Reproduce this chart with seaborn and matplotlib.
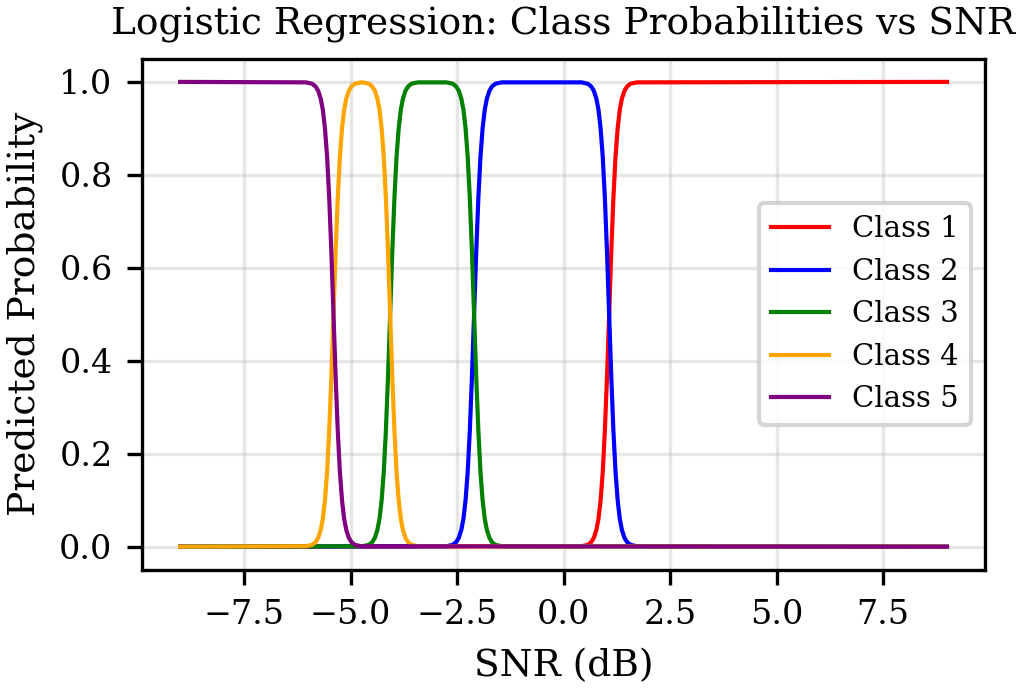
import matplotlib
matplotlib.use('Agg')
import matplotlib.pyplot as plt
import numpy as np
import pandas as pd
import seaborn as sns

# Probability curves (SNR in dB -> predicted probability)
class1_x = [-9.0,
            0.42, 0.57, 0.65, 0.71, 0.77, 0.82, 0.87, 0.92, 0.97, 1.02, 1.07,
            1.12, 1.17, 1.22, 1.27, 1.32, 1.37, 1.43, 1.49, 1.57, 1.72,
            9.0]
class1_y = [0.0,
            0.001, 0.004, 0.010, 0.019, 0.036, 0.060, 0.100, 0.161, 0.250, 0.366, 0.500,
            0.634, 0.750, 0.839, 0.900, 0.940, 0.964, 0.981, 0.990, 0.996, 0.999,
            1.0]

class2_x = [-9.0,
            -2.75, -2.60, -2.52, -2.46, -2.40, -2.35, -2.30, -2.25, -2.20, -2.15, -2.10,
            -2.05, -2.00, -1.95, -1.90, -1.85, -1.80, -1.74, -1.68, -1.60, -1.45,
            0.42, 0.57, 0.65, 0.71, 0.77, 0.82, 0.87, 0.92, 0.97, 1.02, 1.07,
            1.12, 1.17, 1.22, 1.27, 1.32, 1.37, 1.43, 1.49, 1.57, 1.72,
            9.0]
class2_y = [0.0,
            0.001, 0.004, 0.010, 0.019, 0.036, 0.060, 0.100, 0.161, 0.250, 0.366, 0.500,
            0.634, 0.750, 0.839, 0.900, 0.940, 0.964, 0.981, 0.990, 0.996, 0.999,
            0.999, 0.996, 0.990, 0.981, 0.964, 0.940, 0.900, 0.839, 0.750, 0.634, 0.500,
            0.366, 0.250, 0.161, 0.100, 0.060, 0.036, 0.019, 0.010, 0.004, 0.001,
            0.0]

class3_x = [-9.0,
            -4.72, -4.57, -4.49, -4.43, -4.37, -4.32, -4.27, -4.22, -4.17, -4.12, -4.07,
            -4.02, -3.97, -3.92, -3.87, -3.82, -3.77, -3.71, -3.65, -3.57, -3.42,
            -2.75, -2.60, -2.52, -2.46, -2.40, -2.35, -2.30, -2.25, -2.20, -2.15, -2.10,
            -2.05, -2.00, -1.95, -1.90, -1.85, -1.80, -1.74, -1.68, -1.60, -1.45,
            9.0]
class3_y = [0.0,
            0.001, 0.004, 0.010, 0.019, 0.036, 0.060, 0.100, 0.161, 0.250, 0.366, 0.500,
            0.634, 0.750, 0.839, 0.900, 0.940, 0.964, 0.981, 0.990, 0.996, 0.999,
            0.999, 0.996, 0.990, 0.981, 0.964, 0.940, 0.900, 0.839, 0.750, 0.634, 0.500,
            0.366, 0.250, 0.161, 0.100, 0.060, 0.036, 0.019, 0.010, 0.004, 0.001,
            0.0]

class4_x = [-9.0,
            -6.05, -5.90, -5.82, -5.76, -5.70, -5.65, -5.60, -5.55, -5.50, -5.45, -5.40,
            -5.35, -5.30, -5.25, -5.20, -5.15, -5.10, -5.04, -4.98, -4.90, -4.75,
            -4.72, -4.57, -4.49, -4.43, -4.37, -4.32, -4.27, -4.22, -4.17, -4.12, -4.07,
            -4.02, -3.97, -3.92, -3.87, -3.82, -3.77, -3.71, -3.65, -3.57, -3.42,
            9.0]
class4_y = [0.0,
            0.001, 0.004, 0.010, 0.019, 0.036, 0.060, 0.100, 0.161, 0.250, 0.366, 0.500,
            0.634, 0.750, 0.839, 0.900, 0.940, 0.964, 0.981, 0.990, 0.996, 0.999,
            0.999, 0.996, 0.990, 0.981, 0.964, 0.940, 0.900, 0.839, 0.750, 0.634, 0.500,
            0.366, 0.250, 0.161, 0.100, 0.060, 0.036, 0.019, 0.010, 0.004, 0.001,
            0.0]

class5_x = [-9.0,
            -6.05, -5.90, -5.82, -5.76, -5.70, -5.65, -5.60, -5.55, -5.50, -5.45, -5.40,
            -5.35, -5.30, -5.25, -5.20, -5.15, -5.10, -5.04, -4.98, -4.90, -4.75,
            9.0]
class5_y = [1.0,
            0.999, 0.996, 0.990, 0.981, 0.964, 0.940, 0.900, 0.839, 0.750, 0.634, 0.500,
            0.366, 0.250, 0.161, 0.100, 0.060, 0.036, 0.019, 0.010, 0.004, 0.001,
            0.0]

labels = ['Class 1', 'Class 2', 'Class 3', 'Class 4', 'Class 5']
colors = ['red', 'blue', 'green', 'orange', 'purple']
curves = [(class1_x, class1_y), (class2_x, class2_y), (class3_x, class3_y),
          (class4_x, class4_y), (class5_x, class5_y)]

plt.rcParams['font.family'] = 'DejaVu Serif'

fig, ax = plt.subplots(figsize=(3.4, 2.3), dpi=300)
fig.subplots_adjust(left=0.139, right=0.966, top=0.915, bottom=0.174)

for (xs, ys), label, color in zip(curves, labels, colors):
    sns.lineplot(x=xs, y=ys, color=color, label=label, linewidth=1.0, ax=ax)

ax.set_title('Logistic Regression: Class Probabilities vs SNR', fontsize=9)
ax.set_xlabel('SNR (dB)', fontsize=9)
ax.set_ylabel('Predicted Probability', fontsize=9)
ax.tick_params(labelsize=8)
ax.grid(True, alpha=0.3)
ax.legend(loc='center right', fontsize=7)

plt.savefig('out.png', dpi=300)
